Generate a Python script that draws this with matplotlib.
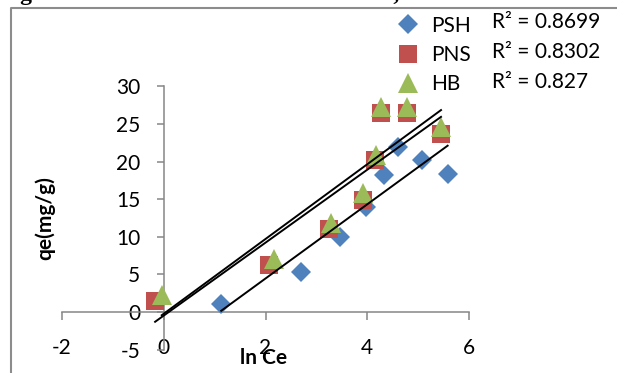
import matplotlib
matplotlib.use("Agg")
import matplotlib.pyplot as plt
import numpy as np
from matplotlib.lines import Line2D

plt.rcParams['font.family'] = ['Lato', 'DejaVu Sans']
plt.rcParams['axes.unicode_minus'] = False

# data (x = ln Ce, y = qe in mg/g)
psh_x = [1.13, 2.69, 3.47, 3.97, 4.33, 4.61, 5.07, 5.58]
psh_y = [1.0, 5.3, 10.0, 14.0, 18.2, 21.9, 20.2, 18.3]
pns_x = [-0.17, 2.06, 3.25, 3.91, 4.16, 4.27, 4.78, 5.45]
pns_y = [1.4, 6.25, 11.1, 14.9, 20.2, 26.5, 26.5, 23.7]
hb_x = [-0.04, 2.16, 3.28, 3.91, 4.17, 4.27, 4.78, 5.45]
hb_y = [2.3, 7.1, 11.9, 15.8, 20.9, 27.3, 27.3, 24.6]
r2_labels = ['R² = 0.8699', 'R² = 0.8302', 'R² = 0.827']
x_ticks = [-2, 0, 2, 4, 6]
y_ticks = [-5, 0, 5, 10, 15, 20, 25, 30]

W, H = 617, 373
fig = plt.figure(figsize=(W / 100, H / 100), dpi=100)
ax = fig.add_axes([62 / W, 1 - 349.6 / H, 407 / W, 263.2 / H])

grey = '#868686'
series = [
    (psh_x, psh_y, 'PSH', 'D', 10, '#4F81BD'),
    (pns_x, pns_y, 'PNS', 's', 13.5, '#C0504D'),
    (hb_x, hb_y, 'HB', '^', 14, '#9BBB59'),
]
handles = []
for xs, ys, name, mk, ms, col in series:
    h, = ax.plot(xs, ys, linestyle='none', marker=mk, markersize=ms,
                 color=col, markeredgewidth=0, label=name, clip_on=False, zorder=3)
    handles.append(h)

# linear trendlines over each series' x range
for xs, ys, name, mk, ms, col in series:
    k, b = np.polyfit(xs, ys, 1)
    xx = np.array([min(xs), max(xs)])
    ax.plot(xx, k * xx + b, color='black', lw=1.4, zorder=4, clip_on=False)

ax.set_xlim(-2, 6)
ax.set_ylim(-5, 30)
ax.set_xticks(x_ticks)
ax.set_yticks(y_ticks)
ax.spines['left'].set_position(('data', 0))
ax.spines['bottom'].set_position(('data', 0))
ax.spines['right'].set_visible(False)
ax.spines['top'].set_visible(False)
for s in ('left', 'bottom'):
    ax.spines[s].set_color(grey)
    ax.spines[s].set_linewidth(1.1)
ax.tick_params(axis='x', direction='out', length=6, width=1.1, color=grey,
               labelsize=15, pad=12.5)
ax.tick_params(axis='y', direction='out', length=5, width=1.1, color=grey,
               labelsize=15, pad=12)
ax.patch.set_visible(False)

fig.text(45 / W, 1 - 218 / H, 'qe(mg/g)', rotation=90, fontsize=15,
         fontweight='bold', ha='center', va='center')
fig.text(264 / W, 1 - 358 / H, 'ln Ce', fontsize=15, fontweight='bold',
         ha='center', va='center')

leg = fig.legend(handles=handles, loc='upper left',
                 bbox_to_anchor=(383 / W, 1 - 1 / H), frameon=False,
                 fontsize=15, handlelength=1.0, handletextpad=0.6,
                 labelspacing=0.45, borderpad=0.2)
for i, t in enumerate(r2_labels):
    fig.text(492 / W, 1 - (22 + 30 * i) / H, t, fontsize=15,
             ha='left', va='center')

# outer frame and cut-off caption
fig.add_artist(Line2D([11 / W, 11 / W, 1], [0, 1 - 8 / H, 1 - 8 / H],
                      color='#8c8c8c', lw=1.5))
fig.text(-0.002, 1.0, 'Fig 3a. Freundlich Plot for MB on PSH, PNS & HB',
         family='Liberation Serif', fontweight='bold', fontsize=17,
         ha='left', va='baseline')

fig.savefig('out.png', dpi=100)
